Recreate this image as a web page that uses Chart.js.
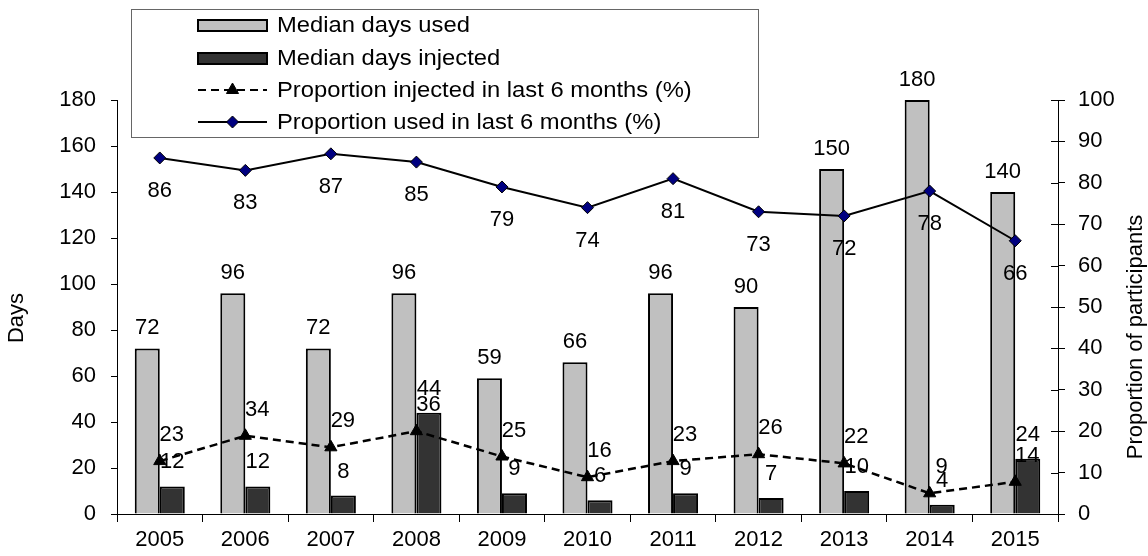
<!DOCTYPE html>
<html>
<head>
<meta charset="utf-8">
<script src="https://cdn.jsdelivr.net/npm/chart.js@4.4.1/dist/chart.umd.min.js"></script>
<style>
    html, body { margin: 0; padding: 0; background: #fff; }
    #wrap { width: 1148px; height: 556px; position: relative; }
</style>
</head>
<body>
<div id="wrap"><canvas id="chart" width="1148" height="556"></canvas></div>
<script>
// data
const years = ['2005', '2006', '2007', '2008', '2009', '2010', '2011', '2012', '2013', '2014', '2015'];
const medianDaysUsed = [72, 96, 72, 96, 59, 66, 96, 90, 150, 180, 140];
const medianDaysInjected = [12, 12, 8, 44, 9, 6, 9, 7, 10, 4, 24];
const propInjected = [23, 34, 29, 36, 25, 16, 23, 26, 22, 9, 14];
const propUsed = [86, 83, 87, 85, 79, 74, 81, 73, 72, 78, 66];
const daysTicks = [0, 20, 40, 60, 80, 100, 120, 140, 160, 180];
const propTicks = [0, 10, 20, 30, 40, 50, 60, 70, 80, 90, 100];

const FONT = '"Liberation Sans", Arial, sans-serif';
const font = { family: FONT, size: 22 };

// value labels next to each mark, offsets per dataset
const labelOffsets = [
    { dx: 0, dy: -9, base: 'bottom' },   // median days used
    { dx: 0, dy: -13, base: 'bottom' },  // median days injected
    { dx: 12, dy: -26, base: 'middle' }, // proportion injected
    { dx: 0, dy: 33, base: 'middle' }    // proportion used
];

const valueLabels = {
    id: 'valueLabels',
    afterDatasetsDraw(chart) {
        const ctx = chart.ctx;
        ctx.save();
        ctx.font = `22px ${FONT}`;
        ctx.fillStyle = '#000';
        ctx.textAlign = 'center';
        chart.data.datasets.forEach((ds, i) => {
            const off = labelOffsets[i];
            ctx.textBaseline = off.base;
            chart.getDatasetMeta(i).data.forEach((el, j) => {
                ctx.fillText(String(ds.data[j]), el.x + off.dx, el.y + off.dy);
            });
        });
        ctx.restore();
    }
};

// axis titles, inner half of right ticks, and the boxed legend
const extras = {
    id: 'extras',
    afterDraw(chart) {
        const ctx = chart.ctx;
        const area = chart.chartArea;
        const y1 = chart.scales.y1;
        ctx.save();

        ctx.strokeStyle = '#000';
        ctx.lineWidth = 1;
        y1.ticks.forEach(t => {
            const y = Math.round(y1.getPixelForValue(t.value)) + 0.5;
            ctx.beginPath();
            ctx.moveTo(area.right - 7, y);
            ctx.lineTo(area.right, y);
            ctx.stroke();
        });

        ctx.font = `22px ${FONT}`;
        ctx.fillStyle = '#000';
        ctx.textAlign = 'center';
        ctx.textBaseline = 'middle';
        ctx.save();
        ctx.translate(17, 318);
        ctx.rotate(-Math.PI / 2);
        ctx.fillText('Days', 0, 0);
        ctx.restore();
        ctx.save();
        ctx.translate(1136, 337);
        ctx.rotate(-Math.PI / 2);
        ctx.fillText('Proportion of participants', 0, 0);
        ctx.restore();

        // legend box
        ctx.fillStyle = '#fff';
        ctx.fillRect(131, 9, 627, 128);
        ctx.strokeStyle = '#666';
        ctx.strokeRect(131.5, 9.5, 627, 128);

        const sx = 198, sw = 69, tx = 277;
        const rows = [25, 58, 90, 122];
        chart.data.datasets.forEach((ds, i) => {
            const y = rows[i];
            if (ds.type === 'bar') {
                ctx.fillStyle = ds.backgroundColor;
                ctx.fillRect(sx, y - 5, sw, 11);
                ctx.strokeStyle = '#000';
                ctx.lineWidth = 2;
                ctx.strokeRect(sx, y - 5, sw, 11);
            } else {
                ctx.strokeStyle = '#000';
                ctx.lineWidth = 2;
                ctx.setLineDash(ds.borderDash || []);
                ctx.beginPath();
                ctx.moveTo(sx, y);
                ctx.lineTo(sx + sw, y);
                ctx.stroke();
                ctx.setLineDash([]);
                ctx.lineWidth = 1;
                ctx.fillStyle = ds.pointBackgroundColor;
                ctx.strokeStyle = '#000';
                Chart.helpers.drawPoint(ctx, {
                    pointStyle: ds.pointStyle,
                    radius: ds.pointRadius,
                    borderWidth: 1
                }, sx + sw / 2, y);
            }
            // legend text is a little wider than the tick labels
            ctx.save();
            ctx.translate(tx, y + 1);
            ctx.scale(1.08, 1);
            ctx.fillStyle = '#000';
            ctx.textAlign = 'left';
            ctx.fillText(ds.label, 0, 0);
            ctx.restore();
        });
        ctx.restore();
    }
};

new Chart(document.getElementById('chart'), {
    data: {
        labels: years,
        datasets: [
            {
                type: 'bar',
                label: 'Median days used',
                data: medianDaysUsed,
                yAxisID: 'y',
                backgroundColor: '#c0c0c0',
                borderColor: '#000',
                borderWidth: 2,
                categoryPercentage: 0.585,
                barPercentage: 1,
                order: 2
            },
            {
                type: 'bar',
                label: 'Median days injected',
                data: medianDaysInjected,
                yAxisID: 'y',
                backgroundColor: '#333333',
                borderColor: '#000',
                borderWidth: 2,
                categoryPercentage: 0.585,
                barPercentage: 1,
                order: 2
            },
            {
                type: 'line',
                label: 'Proportion injected in last 6 months (%)',
                data: propInjected,
                yAxisID: 'y',
                borderColor: '#000',
                borderWidth: 2.5,
                borderDash: [8, 5],
                pointStyle: 'triangle',
                pointRadius: 7,
                pointBackgroundColor: '#000',
                pointBorderColor: '#000',
                pointBorderWidth: 1,
                tension: 0,
                order: 1
            },
            {
                type: 'line',
                label: 'Proportion used in last 6 months (%)',
                data: propUsed,
                yAxisID: 'y1',
                borderColor: '#000',
                borderWidth: 2,
                pointStyle: 'rectRot',
                pointRadius: 6,
                pointBackgroundColor: '#000080',
                pointBorderColor: '#000',
                pointBorderWidth: 1,
                tension: 0,
                order: 1
            }
        ]
    },
    options: {
        responsive: false,
        animation: false,
        layout: { padding: { top: 100, left: 0, right: 0, bottom: 0 } },
        plugins: {
            legend: { display: false },
            tooltip: { enabled: false }
        },
        scales: {
            x: {
                grid: { offset: true, drawOnChartArea: false, color: '#000', tickLength: 8 },
                border: { color: '#000', width: 1 },
                ticks: { font: font, color: '#000', padding: 5, maxRotation: 0 },
                afterFit(s) { s.height = 42; }
            },
            y: {
                position: 'left',
                min: 0,
                max: 180,
                afterBuildTicks(s) { s.ticks = daysTicks.map(v => ({ value: v })); },
                grid: { drawOnChartArea: false, color: '#000', tickLength: 6 },
                border: { color: '#000', width: 1 },
                ticks: { font: font, color: '#000', padding: 15 },
                afterFit(s) { s.width = 117; }
            },
            y1: {
                position: 'right',
                min: 0,
                max: 100,
                afterBuildTicks(s) { s.ticks = propTicks.map(v => ({ value: v })); },
                grid: { drawOnChartArea: false, color: '#000', tickLength: 7 },
                border: { color: '#000', width: 1 },
                ticks: { font: font, color: '#000', padding: 13 },
                afterFit(s) { s.width = 90; }
            }
        }
    },
    plugins: [valueLabels, extras]
});
</script>
</body>
</html>
